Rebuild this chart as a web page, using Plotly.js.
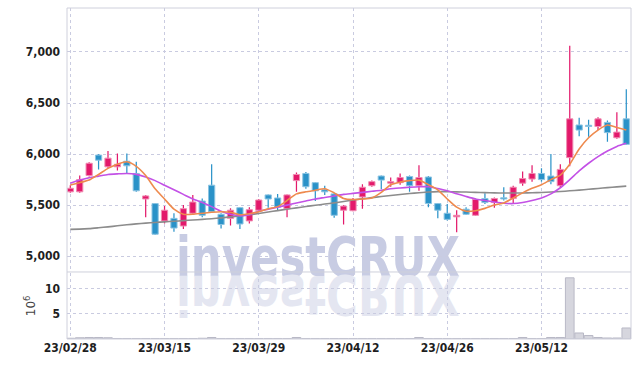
<!DOCTYPE html>
<html>
<head>
<meta charset="utf-8">
<script src="https://cdn.plot.ly/plotly-3.0.1.min.js"></script>
<style>
  html, body { margin: 0; padding: 0; background: #ffffff; }
  #wrap { position: relative; width: 639px; height: 366px; overflow: hidden; }
  #wm { position: absolute; left: 0; top: 0; z-index: 0; }
  #chart { position: absolute; left: 0; top: 0; width: 639px; height: 366px; z-index: 1; }
</style>
</head>
<body>
<div id="wrap">
  <svg id="wm" width="639" height="366" xmlns="http://www.w3.org/2000/svg">
    <text x="176" y="276" font-family="DejaVu Sans Condensed, DejaVu Sans, sans-serif" font-weight="bold" font-size="56" fill="#c8cce3" textLength="284" lengthAdjust="spacingAndGlyphs">investCRUX</text>
    <text x="176" y="276" transform="translate(0,552) scale(1,-1)" font-family="DejaVu Sans Condensed, DejaVu Sans, sans-serif" font-weight="bold" font-size="56" fill="#e4e6f1" textLength="284" lengthAdjust="spacingAndGlyphs">investCRUX</text>
  </svg>
  <div id="chart"></div>
</div>
<script>
const dates = ["23/02/28","23/03/02","23/03/03","23/03/06","23/03/07","23/03/08","23/03/09","23/03/10","23/03/13","23/03/14",
  "23/03/15","23/03/16","23/03/17","23/03/20","23/03/21","23/03/22","23/03/23","23/03/24","23/03/27","23/03/28",
  "23/03/29","23/03/30","23/03/31","23/04/03","23/04/04","23/04/05","23/04/06","23/04/07","23/04/10","23/04/11",
  "23/04/12","23/04/13","23/04/14","23/04/17","23/04/18","23/04/19","23/04/20","23/04/21","23/04/24","23/04/25",
  "23/04/26","23/04/27","23/04/28","23/05/02","23/05/03","23/05/04","23/05/08","23/05/09","23/05/10","23/05/11",
  "23/05/12","23/05/15","23/05/16","23/05/17","23/05/18","23/05/19","23/05/22","23/05/23","23/05/24","23/05/25"];

const openP  = [5630,5630,5790,5990,5875,5875,5930,5810,5560,5515, 5345,5370,5295,5420,5540,5695,5410,5370,5475,5345,
  5450,5600,5570,5465,5740,5810,5720,5650,5610,5450, 5445,5580,5690,5785,5715,5720,5780,5690,5775,5515,
  5420,5385,5460,5400,5565,5525,5570,5565,5715,5755, 5810,5785,5690,5965,6285,6280,6270,6310,6160,6345];
const highP  = [5695,5790,5920,6000,6030,6005,6005,5925,5600,5520, 5490,5420,5500,5600,5565,5900,5420,5470,5480,5480,
  5560,5605,5610,5605,5820,5825,5725,5690,5615,5500, 5570,5705,5740,5790,5770,5810,5790,5890,5785,5520,
  5510,5450,5480,5565,5615,5575,5675,5690,5830,5890, 5860,6000,5900,7060,6355,6335,6360,6330,6410,6635];
const lowP   = [5620,5620,5780,5850,5860,5840,5810,5630,5380,5210, 5320,5240,5265,5410,5380,5425,5270,5300,5265,5320,
  5445,5475,5450,5380,5630,5660,5540,5600,5375,5310, 5440,5465,5680,5655,5680,5700,5630,5640,5480,5370,
  5350,5235,5405,5395,5510,5475,5545,5520,5690,5730, 5730,5705,5675,5880,6175,6170,6235,6120,6150,6090];
const closeP = [5665,5750,5910,5940,5960,5900,5885,5640,5590,5215, 5450,5275,5465,5530,5400,5435,5310,5450,5315,5455,
  5550,5560,5480,5600,5800,5680,5640,5630,5400,5490, 5555,5675,5730,5745,5730,5770,5690,5770,5515,5450,
  5360,5400,5410,5555,5525,5565,5560,5675,5760,5810, 5750,5730,5850,6345,6235,6270,6345,6210,6215,6095];

const maShort = [5696,5720,5745,5800,5860,5900,5925,5880,5790,5660, 5560,5460,5410,5410,5420,5430,5435,5430,5405,5415,
  5435,5465,5485,5545,5610,5630,5645,5660,5620,5565, 5555,5560,5570,5625,5700,5725,5740,5745,5700,5650,
  5560,5480,5440,5445,5468,5500,5520,5570,5620,5665, 5700,5750,5794,5900,6050,6160,6235,6284,6260,6235];
const maMid = [5713,5745,5768,5784,5800,5806,5810,5801,5775,5740, 5695,5650,5605,5560,5525,5485,5440,5410,5395,5405,
  5440,5460,5480,5500,5520,5540,5560,5575,5590,5605, 5615,5625,5635,5645,5660,5668,5675,5680,5680,5662,
  5640,5612,5585,5560,5545,5530,5518,5515,5525,5545, 5570,5610,5670,5750,5835,5910,5975,6030,6075,6105];
const maLong = [5262,5265,5270,5278,5287,5297,5307,5316,5323,5330, 5336,5342,5348,5354,5360,5367,5375,5385,5395,5405,
  5418,5432,5446,5460,5473,5486,5498,5510,5522,5535, 5550,5562,5573,5584,5594,5604,5613,5621,5628,5632,
  5632,5630,5628,5625,5622,5620,5618,5618,5619,5621, 5624,5628,5633,5640,5647,5655,5663,5671,5679,5686];

const volumeM = [0.15,0.25,0.3,0.3,0.25,0.1,0.1,0.1,0.1,0.1, 0.1,0.1,0.1,0.1,0.15,0.3,0.1,0.1,0.1,0.1,
  0.1,0.1,0.1,0.1,0.3,0.1,0.1,0.1,0.1,0.1, 0.1,0.1,0.1,0.1,0.1,0.1,0.1,0.3,0.1,0.1,
  0.1,0.1,0.1,0.1,0.1,0.1,0.1,0.1,0.3,0.1, 0.1,0.3,0.3,12.2,1.2,0.7,0.3,0.2,0.2,2.2];

const tickDates = [dates[0], dates[10], dates[20], dates[30], dates[40], dates[50]];

const UP = '#e3196b', DOWN = '#2a92c8';
const UP_EDGE = '#f08cb2', DOWN_EDGE = '#8cc4e2';
const FONT = 'DejaVu Sans Condensed, DejaVu Sans, sans-serif';

// build bar geometry for candles from OHLC arrays
const isUp = closeP.map((c, i) => c >= openP[i]);
const bodyBase = closeP.map((c, i) => Math.min(c, openP[i]));
const bodyLen = closeP.map((c, i) => Math.max(Math.abs(c - openP[i]), 12));
const wickLen = highP.map((h, i) => h - lowP[i]);
const candleColor = isUp.map(u => u ? UP : DOWN);
const edgeColor = isUp.map(u => u ? UP_EDGE : DOWN_EDGE);

const traces = [
  { type: 'scatter', mode: 'lines', x: dates, y: maLong, xaxis: 'x', yaxis: 'y',
    line: { color: '#8c8c8c', width: 1.6, shape: 'spline', smoothing: 0.6 }, hoverinfo: 'skip' },
  { type: 'bar', x: dates, y: wickLen, base: lowP, width: 0.13, xaxis: 'x', yaxis: 'y',
    marker: { color: candleColor, line: { width: 0 } } },
  { type: 'bar', x: dates, y: bodyLen, base: bodyBase, width: 0.66, xaxis: 'x', yaxis: 'y',
    marker: { color: candleColor, line: { color: edgeColor, width: 1 } } },
  { type: 'scatter', mode: 'lines', x: dates, y: maMid, xaxis: 'x', yaxis: 'y',
    line: { color: '#c351e6', width: 1.6, shape: 'spline', smoothing: 0.6 }, hoverinfo: 'skip' },
  { type: 'scatter', mode: 'lines', x: dates, y: maShort, xaxis: 'x', yaxis: 'y',
    line: { color: '#ee8a4e', width: 1.6, shape: 'spline', smoothing: 0.6 }, hoverinfo: 'skip' },
  { type: 'bar', x: dates, y: volumeM, width: 0.92, xaxis: 'x', yaxis: 'y2',
    marker: { color: '#d6d6de', line: { color: '#b9b9c6', width: 1 } } }
];

const gridC = '#c9cbe0';
const tickF = { family: FONT, size: 12, color: '#1e1e1e', weight: 'bold' };
const layout = {
  width: 639, height: 366,
  margin: { l: 67, r: 8, t: 8, b: 27 },
  paper_bgcolor: 'rgba(0,0,0,0)', plot_bgcolor: 'rgba(0,0,0,0)',
  showlegend: false,
  barmode: 'overlay',
  font: { family: FONT, size: 12, color: '#222' },
  xaxis: {
    type: 'category', anchor: 'y2', range: [-0.35, 59.5],
    tickmode: 'array', tickvals: tickDates, ticktext: tickDates,
    showgrid: true, gridcolor: gridC, griddash: 'dot', gridwidth: 1,
    ticks: '', showline: false, zeroline: false,
    tickfont: tickF
  },
  yaxis: {
    domain: [0.205, 1], range: [4853, 7431],
    tickvals: [5000, 5500, 6000, 6500, 7000], tickformat: ',d',
    showgrid: true, gridcolor: gridC, griddash: 'dot', gridwidth: 1,
    zeroline: false, showline: false, ticks: '', ticklabelstandoff: 6,
    tickfont: tickF
  },
  yaxis2: {
    domain: [0, 0.2], range: [0, 13.2],
    tickvals: [5, 10],
    showgrid: true, gridcolor: gridC, griddash: 'dot', gridwidth: 1,
    zeroline: false, showline: false, ticks: '', ticklabelstandoff: 6,
    title: { text: '10<sup>6</sup>', font: { family: 'DejaVu Sans, sans-serif', size: 12, color: '#444' }, standoff: 6 },
    tickfont: tickF
  },
  shapes: [
    { type: 'rect', xref: 'paper', yref: 'paper', x0: 0, x1: 1, y0: 0, y1: 1,
      line: { color: '#cfd0dc', width: 1 } },
    { type: 'line', xref: 'paper', yref: 'paper', x0: 0, x1: 1, y0: 0.2025, y1: 0.2025,
      line: { color: '#cfd0dc', width: 1 } }
  ]
};

Plotly.newPlot('chart', traces, layout, { displayModeBar: false, staticPlot: true });
</script>
</body>
</html>
